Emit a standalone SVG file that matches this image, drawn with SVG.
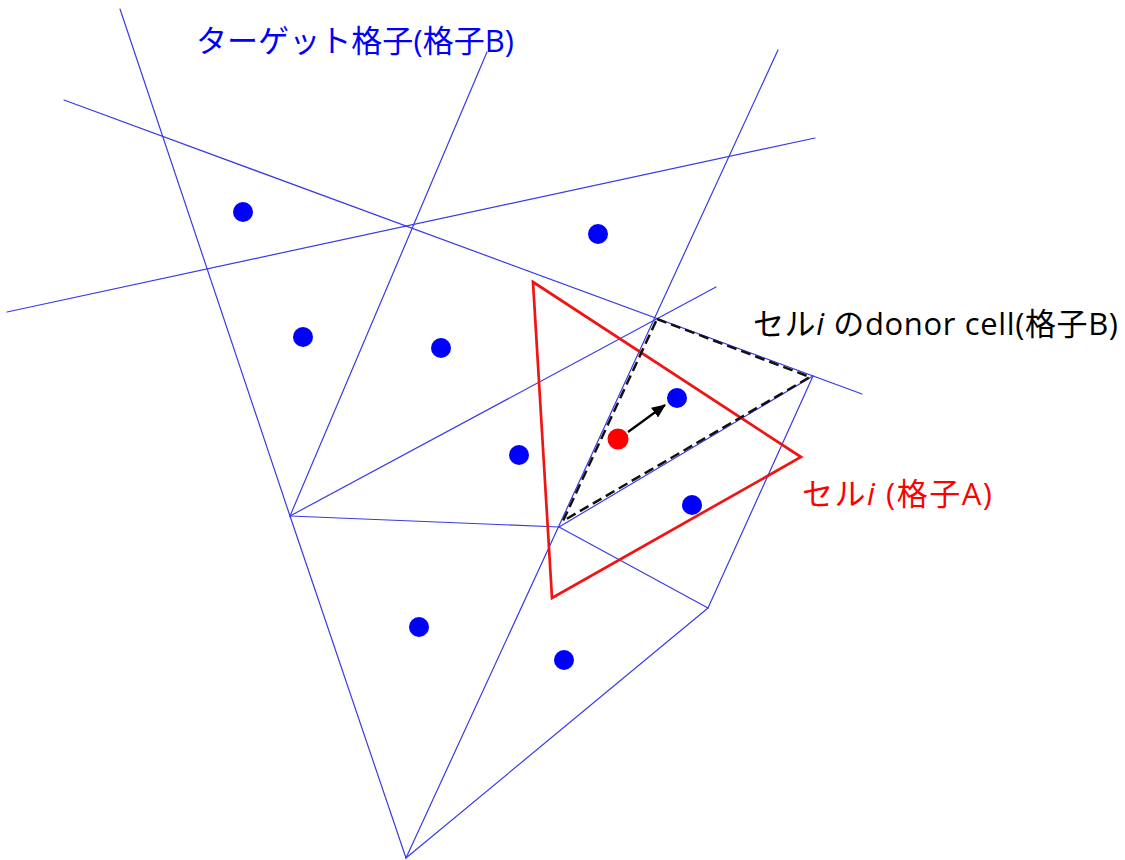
<svg xmlns="http://www.w3.org/2000/svg" width="1125" height="860" viewBox="0 0 1125 860">
<defs>
<style>
.mesh line{stroke:#3a3ae6;stroke-width:1.2;fill:none;stroke-linecap:round}
.dot{fill:#0000ff}
.lbl{font-family:"Open Sans","Noto Sans CJK JP",sans-serif;font-size:31px}
</style>
<marker id="ah" markerWidth="14" markerHeight="12" refX="13" refY="6" orient="auto" markerUnits="userSpaceOnUse" viewBox="0 0 14 12">
<path d="M0,0 L14,6 L0,12 Z" fill="#000"/>
</marker>
</defs>
<rect width="1125" height="860" fill="#fff"/>
<g id="mesh" class="mesh">
<line x1="120" y1="9" x2="290" y2="516"/>
<line x1="290" y1="516" x2="406" y2="858"/>
<line x1="64" y1="100" x2="862" y2="394"/>
<line x1="7" y1="312" x2="815" y2="138"/>
<line x1="487" y1="52" x2="290" y2="516"/>
<line x1="778" y1="50" x2="406" y2="858"/>
<line x1="290" y1="516" x2="716" y2="287"/>
<line x1="290" y1="516" x2="559" y2="527"/>
<line x1="559" y1="527" x2="813" y2="376"/>
<line x1="813" y1="376" x2="708" y2="608"/>
<line x1="559" y1="527" x2="708" y2="608"/>
<line x1="708" y1="608" x2="406" y2="858"/>
</g>
<g id="cellA">
<polygon points="533,282 801,457 552,598" fill="none" stroke="#f01414" stroke-width="2.7" stroke-linejoin="miter"/>
</g>
<g id="donor">
<polygon points="657,319 810,377 563,521" fill="none" stroke="#111" stroke-width="2.5" stroke-dasharray="10,5"/>
</g>
<g id="dots">
<circle class="dot" cx="243" cy="212" r="10"/>
<circle class="dot" cx="598" cy="234" r="10"/>
<circle class="dot" cx="303" cy="337" r="10"/>
<circle class="dot" cx="441" cy="348" r="10"/>
<circle class="dot" cx="519" cy="455" r="10"/>
<circle class="dot" cx="677" cy="398" r="10"/>
<circle class="dot" cx="692" cy="505" r="10"/>
<circle class="dot" cx="419" cy="627" r="10"/>
<circle class="dot" cx="564" cy="660" r="10"/>
</g>
<g id="redpoint">
<circle cx="618" cy="439" r="10.5" fill="#ff0000"/>
</g>
<g id="connectors">
<line x1="628" y1="432" x2="665" y2="405" stroke="#000" stroke-width="2.2" marker-end="url(#ah)"/>
</g>
<g id="labels">
<text class="lbl" x="196" y="52" fill="#0000ff" textLength="318" lengthAdjust="spacing">ターゲット格子(格子B)</text>
<text class="lbl" x="753" y="335" fill="#000" textLength="365" lengthAdjust="spacing">セル<tspan font-style="italic">i</tspan> のdonor cell(格子B)</text>
<text class="lbl" x="802" y="505" fill="#ff0000" textLength="190" lengthAdjust="spacing">セル<tspan font-style="italic">i</tspan> (格子A)</text>
</g>
</svg>
